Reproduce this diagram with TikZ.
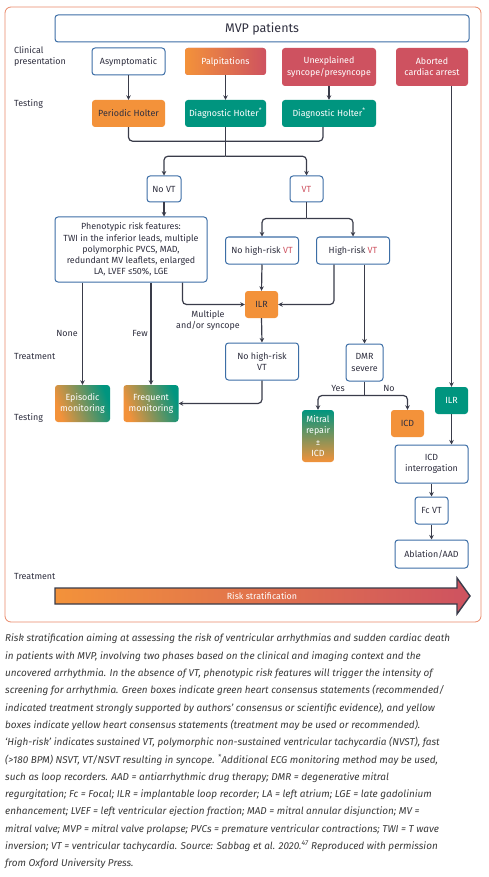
\documentclass[tikz,border=0pt]{standalone}
\usepackage{fontspec}
\setmainfont{Fira Sans}
\usetikzlibrary{arrows.meta,calc}
\definecolor{cblue}{HTML}{3C6EA6}
\definecolor{corange}{HTML}{F3923A}
\definecolor{cred}{HTML}{CE5260}
\definecolor{cteal}{HTML}{00957F}
\definecolor{cline}{HTML}{3A3C4A}
\definecolor{ctext}{HTML}{2F2F3F}
\definecolor{cframe}{HTML}{E9896A}
\definecolor{ccap}{HTML}{3A3A3A}
\begin{document}
\begin{tikzpicture}[x=1pt,y=-1pt,
  box/.style={rounded corners=3pt, inner sep=1pt, align=center, font=\fontsize{8.9}{11.2}\selectfont, text=ctext},
  wbox/.style={box, draw=cblue, line width=1pt, fill=white},
  obox/.style={box, fill=corange, text=white},
  rbox/.style={box, fill=cred, text=white},
  tbox/.style={box, fill=cteal, text=white},
  sz/.style 2 args={minimum width=#1pt, minimum height=#2pt},
  conn/.style={draw=cline, line width=1.2pt, rounded corners=4pt},
  arr/.style={conn, -{Stealth[length=4.5pt,width=4.5pt]}},
  lab/.style={font=\fontsize{8.9}{11.5}\selectfont, text=ctext, inner sep=0pt, align=left},
  clab/.style={font=\fontsize{8.9}{11}\selectfont, text=ctext, inner sep=0pt, align=center}]
\useasboundingbox (0,0) rectangle (488,877);
\fill[white] (0,0) rectangle (488,877);
\draw[cframe, line width=0.8pt, rounded corners=6pt] (5,7) rectangle (481,622);

% row labels
\node[lab, anchor=north west] (l1) at (14,46) {Clinical\\presentation};
\node[lab, anchor=west] (l2) at (14,104) {Testing};
\node[lab, anchor=west] (l3) at (14,356) {Treatment};
\node[lab, anchor=west] (l4) at (14,418) {Testing};
\node[lab, anchor=west] (l5) at (14,576) {Treatment};

% boxes
\node[wbox, sz={414}{27}, font=\fontsize{12.5}{14}\selectfont] (mvp) at (262,28.5) {MVP patients};
\node[wbox, sz={73}{27}] (asym) at (128.5,61.5) {Asymptomatic};
\node[rbox, sz={81}{27}, left color=corange, right color=cred] (palp) at (225.5,61.5) {Palpitations};
\node[rbox, sz={94}{38}] (sync) at (329,67) {Unexplained\\syncope/presyncope};
\node[rbox, sz={72}{38}] (abort) at (432,67) {Aborted\\cardiac arrest};
\node[obox, sz={73}{27}, text=ctext] (perH) at (128.5,113.5) {Periodic Holter};
\node[tbox, sz={81}{27}] (dH1) at (225.5,113.5) {Diagnostic Holter\textsuperscript{*}};
\node[tbox, sz={94}{27}] (dH2) at (329,113.5) {Diagnostic Holter\textsuperscript{*}};
\node[wbox, sz={34}{26}] (novt) at (164,189) {No VT};
\node[wbox, sz={33}{26}, text=cred] (vt) at (306.5,189) {VT};
\node[wbox, sz={152}{65}] (pheno) at (131,249.5) {Phenotypic risk features:\\TWI in the inferior leads, multiple\\polymorphic PVCS, MAD,\\redundant MV leaflets, enlarged\\LA, LVEF ≤50\%, LGE};
\node[wbox, sz={73}{27}] (nhr) at (262,250.5) {No high-risk \textcolor{cred}{VT}};
\node[wbox, sz={73}{27}] (hr) at (353,250.5) {High-risk \textcolor{cred}{VT}};
\node[obox, sz={33}{27}, text=ctext] (ilr1) at (261.5,304.5) {ILR};
\node[wbox, sz={73}{37}] (nhr2) at (262,361.5) {No high-risk\\VT};
\node[wbox, sz={37}{37}] (dmr) at (364.5,362.5) {DMR\\severe};
\node[box, sz={55}{37}, bottom color=corange, top color=cteal, shading angle=-70, text=white] (epi) at (82.5,403.5) {Episodic\\monitoring};
\node[box, sz={55}{37}, bottom color=corange, top color=cteal, shading angle=-70, text=white] (freq) at (151,403.5) {Frequent\\monitoring};
\node[box, sz={32}{52}, top color=cteal, bottom color=corange, text=white] (mitral) at (318,436) {Mitral\\repair\\±\\ICD};
\node[obox, sz={33}{27}, text=ctext] (icd) at (407.5,423.5) {ICD};
\node[tbox, sz={33}{27}] (ilr2) at (451.5,400.5) {ILR};
\node[wbox, sz={73}{38}] (icdint) at (431.5,464) {ICD\\interrogation};
\node[wbox, sz={33}{27}] (fcvt) at (431.5,510.5) {Fc VT};
\node[wbox, sz={73}{28}] (abl) at (431.5,554) {Ablation/AAD};

% connectors
\draw[arr] (asym) -- (perH);
\draw[arr] (palp) -- (dH1);
\draw[arr] (sync) -- (dH2);
\coordinate (j0) at ($(perH.south)+(0,14)$);
\draw[conn] (perH.south) -- (j0) -| ($(dH2.south)+(-6,0)$);
\coordinate (j1) at ($(dH1.south)+(0,29)$);
\draw[conn] (dH1.south) -- (j1);
\draw[arr] (j1) -| (novt.north);
\draw[arr] (j1) -| (vt.north);
\draw[arr] (novt.south) -- (novt.south |- pheno.north);
\coordinate (j2) at ($(vt.south)+(0,16)$);
\draw[conn] (vt.south) -- (j2);
\draw[arr] (j2) -| (nhr.north);
\draw[arr] (j2) -| (hr.north);
\draw[arr] (nhr.south) -- (ilr1.north);
\draw[arr] ($(pheno.south east)+(-25,0)$) |- (ilr1.west);
\draw[arr] ($(hr.south west)+(18,0)$) |- (ilr1.east);
\draw[arr] (ilr1.south) -- (nhr2.north);
\draw[arr] (dmr.north |- hr.south) -- (dmr.north);
\draw[arr] (epi.north |- pheno.south) -- (epi.north);
\draw[arr] (freq.north |- pheno.south) -- (freq.north);
\draw[arr] (nhr2.south) |- (freq.east);
\coordinate (j3) at ($(dmr.south)+(0,14)$);
\draw[conn] (dmr.south) -- (j3);
\draw[arr] (j3) -| (mitral.north);
\draw[arr] (j3) -| (icd.north);
\draw[arr] (ilr2.north |- abort.south) -- (ilr2.north);
\draw[arr] (ilr2.south) -- (ilr2.south |- icdint.north);
\draw[arr] (icdint.south) -- (fcvt.north);
\draw[arr] (fcvt.south) -- (abl.north);

% connector labels
\node[clab] (none) at (67,333) {None};
\node[clab] (few) at (140,333) {Few};
\node[clab] (mult) at (208,320.5) {Multiple\\and/or syncope};
\node[clab] (yes) at (338,388) {Yes};
\node[clab] (no) at (389,388) {No};

% risk arrow
\path[draw=cline, line width=1.4pt, left color=corange, right color=cred]
  (55,588) -- (457,588) -- (457,578) -- (470,596) -- (457,614) -- (457,604) -- (55,604) -- cycle;
\node[font=\fontsize{8.9}{11}\selectfont, text=white] (risk) at (262,596) {Risk stratification};

% caption
\node[anchor=north west, inner sep=0pt, align=left, text=ccap,
  font=\fontsize{9.95}{17.3}\selectfont\itshape] (cap) at (5,634) {%
Risk stratification aiming at assessing the risk of ventricular arrhythmias and sudden cardiac death\\
in patients with MVP, involving two phases based on the clinical and imaging context and the\\
uncovered arrhythmia. In the absence of VT, phenotypic risk features will trigger the intensity of\\
screening for arrhythmia. Green boxes indicate green heart consensus statements (recommended/\\
indicated treatment strongly supported by authors’ consensus or scientific evidence), and yellow\\
boxes indicate yellow heart consensus statements (treatment may be used or recommended).\\
‘High-risk’ indicates sustained VT, polymorphic non-sustained ventricular tachycardia (NVST), fast\\
(>180 BPM) NSVT, VT/NSVT resulting in syncope. \textsuperscript{*}Additional ECG monitoring method may be used,\\
such as loop recorders. AAD = antiarrhythmic drug therapy; DMR = degenerative mitral\\
regurgitation; Fc = Focal; ILR = implantable loop recorder; LA = left atrium; LGE = late gadolinium\\
enhancement; LVEF = left ventricular ejection fraction; MAD = mitral annular disjunction; MV =\\
mitral valve; MVP = mitral valve prolapse; PVCs = premature ventricular contractions; TWI = T wave\\
inversion; VT = ventricular tachycardia. Source: Sabbag et al. 2020.\textsuperscript{47} Reproduced with permission\\
from Oxford University Press.};
\end{tikzpicture}
\end{document}
